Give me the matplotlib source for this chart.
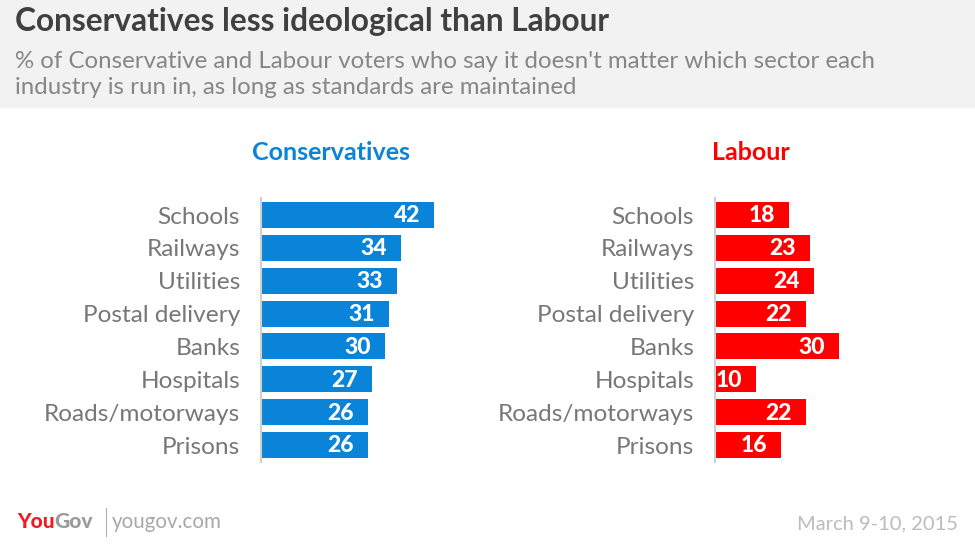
import matplotlib.pyplot as plt
from matplotlib.patches import Rectangle
from matplotlib.transforms import offset_copy

plt.rcParams['font.family'] = ['Lato', 'DejaVu Sans']

# data
categories = ["Schools", "Railways", "Utilities", "Postal delivery",
              "Banks", "Hospitals", "Roads/motorways", "Prisons"]
conservatives = [42, 34, 33, 31, 30, 27, 26, 26]
labour = [18, 23, 24, 22, 30, 10, 22, 16]

W, H = 975, 553
fig = plt.figure(figsize=(W / 100, H / 100), dpi=100)
fig.patch.set_facecolor("white")

# grey header band
fig.patches.append(Rectangle((0, 1 - 108 / H), 1, 108 / H, transform=fig.transFigure,
                             facecolor="#f2f2f2", edgecolor="none", zorder=0))

fig.text(15 / W, 1 - 22 / H, "Conservatives less ideological than Labour",
         fontsize=22.8, fontweight="bold", color="#404040", va="center", ha="left")
fig.text(15 / W, 1 - 61 / H,
         "% of Conservative and Labour voters who say it doesn't matter which sector each",
         fontsize=17.3, color="#868686", va="center", ha="left")
fig.text(15 / W, 1 - 88 / H,
         "industry is run in, as long as standards are maintained",
         fontsize=17.3, color="#868686", va="center", ha="left")

px_per_unit = 4.12
pitch = (445 - 215) / 7
top_px, bot_px = 198, 462


def panel(x0, values, color, title, title_x):
    ax = fig.add_axes([x0 / W, 1 - bot_px / H, 60 * px_per_unit / W, (bot_px - top_px) / H])
    y = list(range(len(categories)))
    ax.barh(y, values, height=26 / pitch, color=color, zorder=2)
    ax.set_xlim(0, 60)
    ax.set_ylim(7 + (bot_px - 445) / pitch, -(215 - top_px) / pitch)
    ax.set_yticks(y)
    ax.set_yticklabels(categories, fontsize=17.6, color="#777777")
    ax.tick_params(axis="y", length=0, pad=15)
    ax.set_xticks([])
    for s in ["top", "right", "bottom"]:
        ax.spines[s].set_visible(False)
    ax.spines["left"].set_color("#d0d0d0")
    ax.spines["left"].set_linewidth(1.5)
    ax.spines["left"].set_zorder(3)
    ax.patch.set_alpha(0)
    tr = offset_copy(ax.transData, fig=fig, x=-14, y=-1, units="dots")
    for i, v in enumerate(values):
        ax.text(v, i, str(v), transform=tr, ha="right", va="center",
                fontsize=16.5, fontweight="black", color="white", zorder=4)
    fig.text(title_x / W, 1 - 152 / H, title, fontsize=18, fontweight="bold",
             color=color, ha="center", va="center")
    return ax


panel(261, conservatives, "#0a84d8", "Conservatives", 331)
panel(715, labour, "#ff0000", "Labour", 751)

# footer
fy = 1 - 522 / H
t1 = fig.text(17 / W, fy, "You", fontsize=15, fontweight="black", color="#ee1c25",
              ha="left", va="center")
fig.canvas.draw()
bb = t1.get_window_extent()
fig.text(bb.x1 / fig.bbox.width, fy, "Gov", fontsize=15, fontweight="black",
         color="#9a9a9a", ha="left", va="center")
fig.add_artist(plt.Line2D([106 / W, 106 / W], [1 - 508 / H, 1 - 536 / H],
                          color="#b0b0b0", lw=0.8, transform=fig.transFigure))
fig.text(112 / W, fy, "yougov.com", fontsize=14.8, color="#a8a8a8", ha="left", va="center")
fig.text(958 / W, 1 - 524 / H, "March 9-10, 2015", fontsize=14.5, color="#bcbcbc",
         ha="right", va="center")

fig.savefig("out.png", dpi=100, facecolor=fig.get_facecolor())
